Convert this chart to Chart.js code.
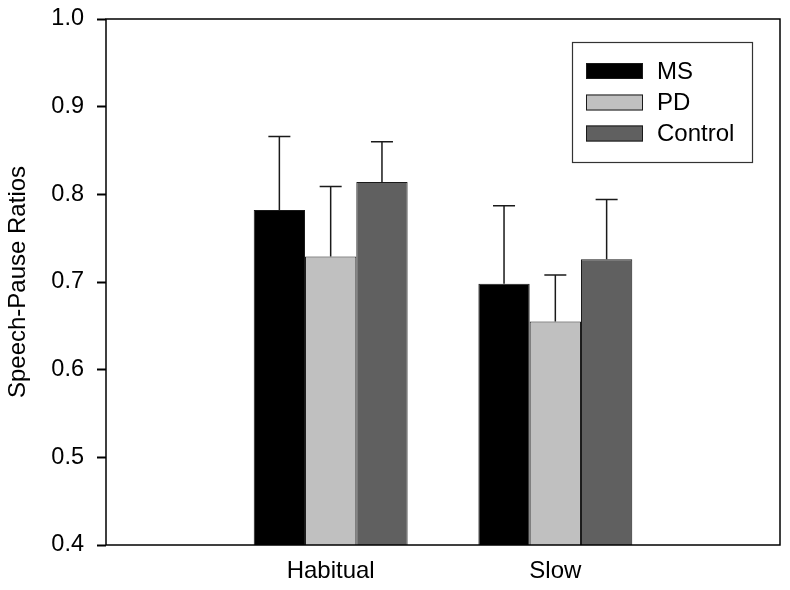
<!DOCTYPE html>
<html>
<head>
<meta charset="utf-8">
<script src="https://cdn.jsdelivr.net/npm/chart.js@4"></script>
<style>
html,body{margin:0;padding:0;background:#fff;}
#wrap{width:790px;height:590px;position:relative;}
</style>
</head>
<body>
<div id="wrap"><canvas id="c" width="790" height="590"></canvas></div>
<script>
const categories = ['Habitual', 'Slow'];
const seriesNames = ['MS', 'PD', 'Control'];
const msMeans = [0.782, 0.698];
const msErrors = [0.084, 0.089];
const pdMeans = [0.729, 0.655];
const pdErrors = [0.080, 0.053];
const controlMeans = [0.814, 0.726];
const controlErrors = [0.046, 0.068];
const yTicks = [0.4, 0.5, 0.6, 0.7, 0.8, 0.9, 1.0];
const yTitle = 'Speech-Pause Ratios';

const FONT = "'Liberation Sans', Arial, sans-serif";
const colors = ['#000000', '#c0c0c0', '#606060'];

// pad categories with empty slots so the groups sit at 1/3 and 2/3 of the axis
const labels = [''].concat(categories, ['']);
const pad = arr => [null].concat(arr, [null]);
const means = [msMeans, pdMeans, controlMeans];
const errors = [msErrors, pdErrors, controlErrors];

const datasets = seriesNames.map((n, i) => ({
  label: n,
  data: pad(means[i]),
  errors: pad(errors[i]),
  backgroundColor: colors[i],
  borderColor: '#1a1a1a',
  borderWidth: 1,
  borderSkipped: 'bottom',
  categoryPercentage: 0.685,
  barPercentage: 1.0
}));

const errorBarPlugin = {
  id: 'errorBars',
  afterDatasetsDraw(chart) {
    const ctx = chart.ctx;
    const y = chart.scales.y;
    ctx.save();
    ctx.strokeStyle = '#1a1a1a';
    ctx.lineWidth = 1.5;
    chart.data.datasets.forEach((ds, di) => {
      const meta = chart.getDatasetMeta(di);
      meta.data.forEach((el, j) => {
        const v = ds.data[j];
        const e = ds.errors[j];
        if (v == null || e == null) return;
        const top = y.getPixelForValue(v + e);
        const base = y.getPixelForValue(v);
        ctx.beginPath();
        ctx.moveTo(el.x, base);
        ctx.lineTo(el.x, top);
        ctx.moveTo(el.x - 11, top);
        ctx.lineTo(el.x + 11, top);
        ctx.stroke();
      });
    });
    ctx.restore();
  }
};

const framePlugin = {
  id: 'frame',
  afterDraw(chart) {
    const a = chart.chartArea;
    const ctx = chart.ctx;
    ctx.save();
    ctx.strokeStyle = '#000';
    ctx.lineWidth = 1.5;
    ctx.strokeRect(a.left, a.top, a.right - a.left, a.bottom - a.top);
    ctx.restore();
  }
};

const legendBoxPlugin = {
  id: 'legendBox',
  afterDraw(chart) {
    const ctx = chart.ctx;
    ctx.save();
    const bx = 572, by = 42, bw = 180, bh = 120;
    ctx.strokeStyle = '#333';
    ctx.lineWidth = 1.2;
    ctx.strokeRect(bx + 0.5, by + 0.5, bw, bh);
    const rows = [71, 102.5, 133.5];
    chart.data.datasets.forEach((ds, i) => {
      ctx.fillStyle = ds.backgroundColor;
      ctx.fillRect(586, rows[i] - 8, 57, 16);
      ctx.strokeStyle = '#1a1a1a';
      ctx.lineWidth = 1;
      ctx.strokeRect(586.5, rows[i] - 7.5, 56, 15);
      ctx.fillStyle = '#000';
      ctx.font = '24px ' + FONT;
      ctx.textBaseline = 'middle';
      ctx.textAlign = 'left';
      ctx.fillText(ds.label, 657, rows[i] + 1);
    });
    ctx.restore();
  }
};

new Chart(document.getElementById('c'), {
  type: 'bar',
  data: { labels: labels, datasets: datasets },
  options: {
    responsive: false,
    animation: false,
    layout: { padding: { left: 0, top: 19, right: 10, bottom: 0 } },
    plugins: { legend: { display: false }, tooltip: { enabled: false } },
    scales: {
      x: {
        type: 'category',
        offset: false,
        grid: { display: false, drawTicks: false },
        border: { display: false },
        ticks: { color: '#000', font: { family: FONT, size: 24 }, padding: 12, maxRotation: 0, autoSkip: false },
        afterFit(s) { s.height = 45; s.paddingLeft = 0; s.paddingRight = 0; }
      },
      y: {
        min: 0.4, max: 1.0,
        afterBuildTicks(s) { s.ticks = yTicks.map(v => ({ value: v })); },
        grid: { drawOnChartArea: false, drawTicks: true, tickLength: 9, tickWidth: 2, tickColor: '#000' },
        border: { display: false },
        ticks: { color: '#000', font: { family: FONT, size: 23.5 }, padding: 13,
                 callback: v => Number(v).toFixed(1) },
        title: { display: true, text: yTitle, color: '#000', font: { family: FONT, size: 24 }, padding: { top: 4, bottom: 0 } },
        afterFit(s) { s.width = 106; s.paddingTop = 0; s.paddingBottom = 0; }
      }
    }
  },
  plugins: [errorBarPlugin, framePlugin, legendBoxPlugin]
});
</script>
</body>
</html>
